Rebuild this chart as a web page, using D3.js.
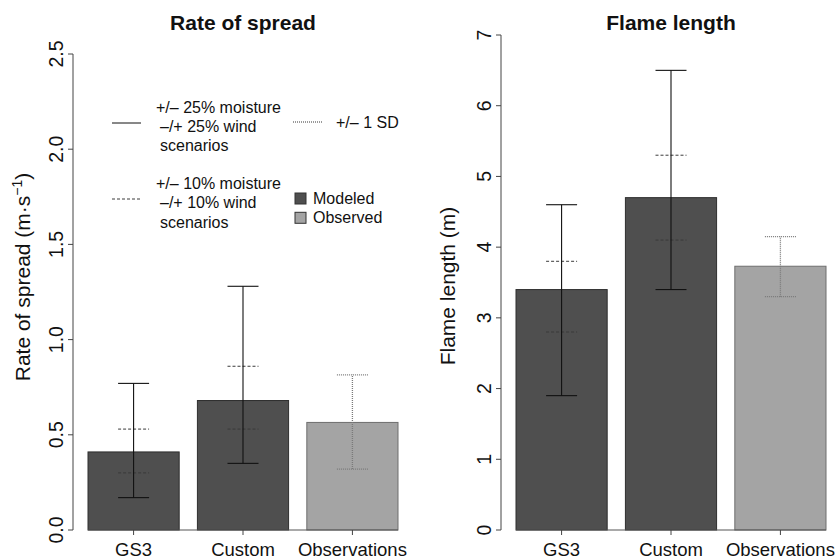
<!DOCTYPE html>
<html>
<head>
<meta charset="utf-8">
<script src="https://cdn.jsdelivr.net/npm/d3@7"></script>
<style>
  html, body { margin: 0; padding: 0; background: #fff; }
  svg { display: block; font-family: "Liberation Sans", Arial, Helvetica, sans-serif; }
</style>
</head>
<body>
<svg id="chart" width="838" height="559"></svg>
<script>
// ── Data ──────────────────────────────────────────────
const categories = ["GS3", "Custom", "Observations"]
const barKind    = ["Modeled", "Modeled", "Observed"]

// Rate of spread (m·s-1)
const rosMean   = [0.41, 0.68, 0.565]
const rosWide   = [[0.17, 0.77], [0.35, 1.28], null]   // +/- 25% scenarios
const rosNarrow = [[0.30, 0.53], [0.53, 0.86], null]   // +/- 10% scenarios
const rosSD     = [null, null, [0.32, 0.815]]          // +/- 1 SD
const rosTicks  = [0, 0.5, 1.0, 1.5, 2.0, 2.5]

// Flame length (m)
const flMean   = [3.4, 4.7, 3.73]
const flWide   = [[1.9, 4.6], [3.4, 6.5], null]
const flNarrow = [[2.8, 3.8], [4.1, 5.3], null]
const flSD     = [null, null, [3.3, 4.15]]
const flTicks  = [0, 1, 2, 3, 4, 5, 6, 7]

const FILL   = { Modeled: "#4f4f4f", Observed: "#a4a4a4" }
const STROKE = { Modeled: "#2e2e2e", Observed: "#6e6e6e" }

const svg = d3.select("#chart")

function drawPanel(opt) {
  const g = svg.append("g")
  const x = d3.scaleBand().domain(categories)
    .range([opt.x0, opt.x1]).paddingInner(0.2 / 1.2).paddingOuter(0)
  const y = d3.scaleLinear().domain([0, d3.max(opt.ticks)]).range([530, opt.yTop])
  const cx = c => x(c) + x.bandwidth() / 2

  // title
  g.append("text")
    .attr("x", (opt.x0 + opt.x1) / 2).attr("y", 30)
    .attr("text-anchor", "middle")
    .attr("font-size", 21).attr("font-weight", "bold").attr("fill", "#111")
    .text(opt.title)

  // bars
  g.selectAll("rect.bar").data(categories).join("rect")
    .attr("class", "bar")
    .attr("x", c => x(c)).attr("width", x.bandwidth())
    .attr("y", (c, i) => y(opt.mean[i]))
    .attr("height", (c, i) => y(0) - y(opt.mean[i]))
    .attr("fill", (c, i) => FILL[barKind[i]])
    .attr("stroke", (c, i) => STROKE[barKind[i]])
    .attr("stroke-width", 1)

  // baseline
  g.append("line")
    .attr("x1", opt.x0).attr("x2", opt.x1)
    .attr("y1", y(0)).attr("y2", y(0))
    .attr("stroke", "#555")

  // error bars
  const half = 15.5
  function errBars(vals, color, dash, width, withStem) {
    categories.forEach((c, i) => {
      const v = vals[i]
      if (!v) return
      const xc = cx(c)
      const eg = g.append("g")
        .attr("stroke", color).attr("stroke-width", width)
        .attr("stroke-dasharray", dash)
      if (withStem) {
        eg.append("line").attr("x1", xc).attr("x2", xc)
          .attr("y1", y(v[0])).attr("y2", y(v[1]))
      }
      v.forEach(val => {
        eg.append("line").attr("x1", xc - half).attr("x2", xc + half)
          .attr("y1", y(val)).attr("y2", y(val))
      })
    })
  }
  errBars(opt.narrow, "#3a3a3a", "3,2", 1, false)
  errBars(opt.wide, "#111", null, 1.1, true)
  errBars(opt.sd, "#7a7a7a", "1,1", 1.3, true)

  // y axis (R style)
  const ax = opt.x0 - 15
  g.append("line")
    .attr("x1", ax).attr("x2", ax)
    .attr("y1", y(0)).attr("y2", y(d3.max(opt.ticks)))
    .attr("stroke", "#444")
  g.selectAll("line.ytick").data(opt.ticks).join("line")
    .attr("class", "ytick")
    .attr("x1", ax - 5).attr("x2", ax)
    .attr("y1", d => y(d)).attr("y2", d => y(d))
    .attr("stroke", "#444")
  g.selectAll("text.ylab").data(opt.ticks).join("text")
    .attr("class", "ylab")
    .attr("transform", d => `translate(${ax - 10},${y(d)}) rotate(-90)`)
    .attr("text-anchor", "middle")
    .attr("font-size", 19.5).attr("fill", "#111")
    .text(opt.fmt)

  // x ticks + category labels
  g.selectAll("line.xtick").data(categories).join("line")
    .attr("class", "xtick")
    .attr("x1", cx).attr("x2", cx)
    .attr("y1", y(0)).attr("y2", y(0) + 5)
    .attr("stroke", "#444")
  g.selectAll("text.xlab").data(categories).join("text")
    .attr("class", "xlab")
    .attr("x", cx).attr("y", 556)
    .attr("text-anchor", "middle")
    .attr("font-size", 18.5).attr("fill", "#111")
    .text(d => d)

  // y axis title
  const yt = g.append("text")
    .attr("transform", `translate(${opt.labelX},${opt.labelY}) rotate(-90)`)
    .attr("text-anchor", "middle")
    .attr("font-size", 21).attr("fill", "#111")
  opt.label(yt)

  return { x, y }
}

drawPanel({
  x0: 88, x1: 398, yTop: 54, title: "Rate of spread",
  mean: rosMean, wide: rosWide, narrow: rosNarrow, sd: rosSD,
  ticks: rosTicks, fmt: d => d3.format(".1f")(d),
  labelX: 30, labelY: 277,
  label: t => {
    t.append("tspan").text("Rate of spread (m·s")
    t.append("tspan").attr("dy", -8).attr("font-size", 14).text("−1")
    t.append("tspan").attr("dy", 8).text(")")
  }
})

drawPanel({
  x0: 516, x1: 826, yTop: 35, title: "Flame length",
  mean: flMean, wide: flWide, narrow: flNarrow, sd: flSD,
  ticks: flTicks, fmt: d => d3.format("d")(d),
  labelX: 455, labelY: 286,
  label: t => t.text("Flame length (m)")
})

// ── Legend (left panel) ───────────────────────────────
const lg = svg.append("g").attr("font-size", 16).attr("fill", "#111")
const legendLines = [
  { y: 123, dash: null, color: "#111", text: ["+/– 25% moisture", "–/+ 25% wind", "scenarios"], ty: 112.5 },
  { y: 199, dash: "3,2", color: "#3a3a3a", text: ["+/– 10% moisture", "–/+ 10% wind", "scenarios"], ty: 189 }
]
legendLines.forEach(d => {
  lg.append("line").attr("x1", 112).attr("x2", 141)
    .attr("y1", d.y).attr("y2", d.y)
    .attr("stroke", d.color).attr("stroke-dasharray", d.dash)
  d.text.forEach((s, i) => {
    lg.append("text").attr("x", i === 0 ? 156 : 160).attr("y", d.ty + i * 19.3).text(s)
  })
})
lg.append("line").attr("x1", 293).attr("x2", 323)
  .attr("y1", 122).attr("y2", 122)
  .attr("stroke", "#7a7a7a").attr("stroke-dasharray", "1,1").attr("stroke-width", 1.3)
lg.append("text").attr("x", 336).attr("y", 128).text("+/– 1 SD")

const kinds = ["Modeled", "Observed"]
kinds.forEach((k, i) => {
  lg.append("rect").attr("x", 295).attr("y", 193 + i * 19.3)
    .attr("width", 11).attr("height", 11)
    .attr("fill", FILL[k]).attr("stroke", "#333")
  lg.append("text").attr("x", 313).attr("y", 204 + i * 19.3).text(k)
})
</script>
</body>
</html>
